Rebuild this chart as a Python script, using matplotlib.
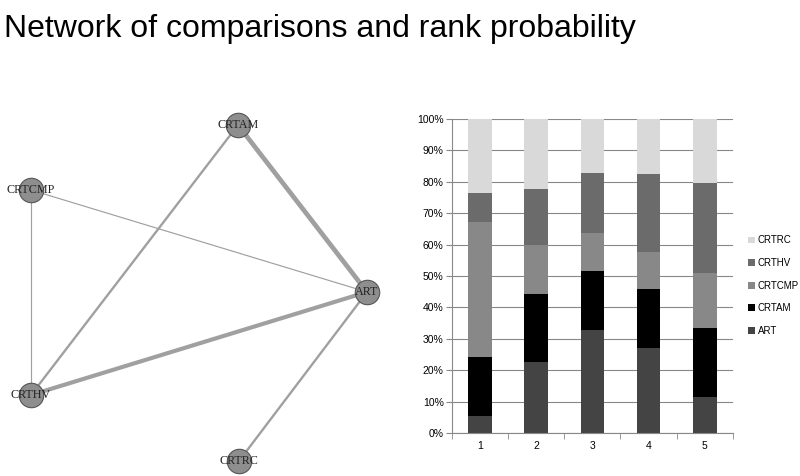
import matplotlib
matplotlib.use('Agg')
import matplotlib.pyplot as plt
import numpy as np

# rank probability (%) for ranks 1..5
ranks = ['1', '2', '3', '4', '5']
ART = [5.5, 22.7, 32.9, 27.2, 11.4]
CRTAM = [18.7, 21.6, 18.8, 18.6, 21.9]
CRTCMP = [43.1, 15.4, 12.0, 11.9, 17.7]
CRTHV = [9.2, 18.0, 19.1, 24.7, 28.5]
CRTRC = [23.5, 22.3, 17.2, 17.6, 20.5]

# network: nodes and comparisons (edge weight = line width)
nodes = ['CRTAM', 'CRTCMP', 'ART', 'CRTHV', 'CRTRC']
edges = [('CRTAM', 'ART', 4.0), ('CRTHV', 'ART', 3.5), ('CRTAM', 'CRTHV', 2.0),
         ('ART', 'CRTRC', 2.0), ('CRTCMP', 'ART', 1.0), ('CRTCMP', 'CRTHV', 1.0)]

# layout of nodes (pixel coords in the left panel)
layout = {'CRTAM': (238, 125), 'CRTCMP': (31, 190), 'ART': (367, 292),
          'CRTHV': (31, 395), 'CRTRC': (239, 461)}

fig = plt.figure(figsize=(8, 4.76), dpi=100)
fig.text(0.005, 0.94, 'Network of comparisons and rank probability',
         fontsize=23, family='Liberation Sans', va='center', ha='left')

# --- network panel
axn = fig.add_axes([0, 0, 0.5, 1])
axn.set_xlim(0, 400)
axn.set_ylim(476, 0)
axn.axis('off')
for a, b, w in edges:
    xa, ya = layout[a]
    xb, yb = layout[b]
    axn.plot([xa, xb], [ya, yb], color='#a0a0a0', lw=w * 0.85, zorder=1,
             solid_capstyle='butt')
for n in nodes:
    x, y = layout[n]
    axn.scatter([x], [y], s=310, color='#8e8e8e', edgecolor='#555555',
                linewidth=0.8, zorder=2)
    axn.text(x, y, n, fontsize=8.7, family='Liberation Serif', ha='center',
             va='center', color='#222222', zorder=3)

# --- stacked bar panel
ax = fig.add_axes([0.565, 0.0903, 0.351, 0.66])
series = [('ART', ART, '#444444'), ('CRTAM', CRTAM, '#000000'),
          ('CRTCMP', CRTCMP, '#888888'), ('CRTHV', CRTHV, '#6b6b6b'),
          ('CRTRC', CRTRC, '#d9d9d9')]
x = np.arange(len(ranks))
bottom = np.zeros(len(ranks))
handles = []
for name, vals, col in series:
    h = ax.bar(x, vals, 0.42, bottom=bottom, color=col, label=name, zorder=2)
    handles.append(h)
    bottom += np.array(vals)

ax.set_xlim(-0.5, len(ranks) - 0.5)
ax.set_ylim(0, 100)
ax.set_yticks(np.arange(0, 101, 10))
ax.set_yticklabels(['%d%%' % v for v in range(0, 101, 10)],
                   fontsize=7.5, family='Liberation Sans')
ax.set_xticks(x)
ax.set_xticklabels(ranks, fontsize=7.5, family='Liberation Sans')
ax.set_xticks(np.arange(-0.5, len(ranks), 1), minor=True)
ax.tick_params(axis='x', which='major', length=0, pad=6)
ax.tick_params(axis='x', which='minor', length=4, color='#888888')
ax.tick_params(axis='y', length=4, color='#888888', pad=2)
ax.grid(axis='y', color='#888888', lw=0.8, zorder=0)
for s in ['top', 'right']:
    ax.spines[s].set_visible(False)
ax.spines['left'].set_color('#888888')
ax.spines['bottom'].set_color('#888888')

fig.legend(handles[::-1], [s[0] for s in series][::-1], loc='center left',
           bbox_to_anchor=(0.935, 0.4), frameon=False, borderpad=0,
           borderaxespad=0, prop={'family': 'Liberation Sans', 'size': 7},
           handlelength=0.7, handleheight=0.7, labelspacing=1.3,
           handletextpad=0.3)

fig.savefig('out.png', dpi=100)
